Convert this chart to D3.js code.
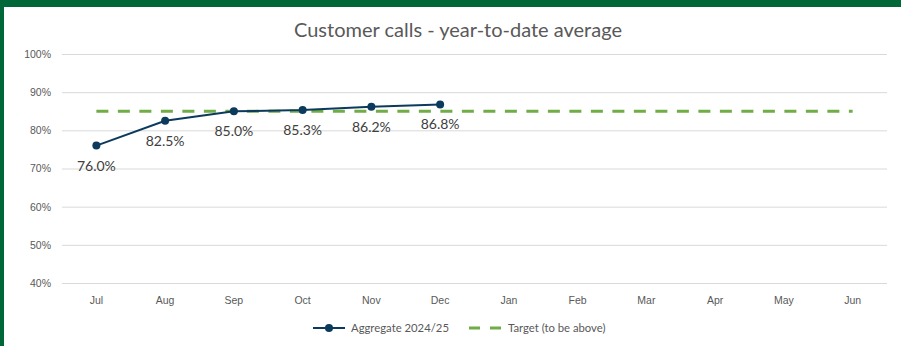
<!DOCTYPE html>
<html>
<head>
<meta charset="utf-8">
<script src="https://cdn.jsdelivr.net/npm/d3@7"></script>
<style>
  html, body { margin: 0; padding: 0; background: #fff; }
  svg { display: block; font-family: Lato, "Open Sans", sans-serif; }
</style>
</head>
<body>
<svg id="chart" width="901" height="346"></svg>
<script>
// Months of the financial year
const months = ["Jul", "Aug", "Sep", "Oct", "Nov", "Dec", "Jan", "Feb", "Mar", "Apr", "May", "Jun"];
// Year-to-date average (%) for Aggregate 2024/25
const aggregate = [76.0, 82.5, 85.0, 85.3, 86.2, 86.8];
// Target (to be above), %
const target = [85, 85, 85, 85, 85, 85, 85, 85, 85, 85, 85, 85];
// Y axis ticks, %
const yTicks = [40, 50, 60, 70, 80, 90, 100];

const svg = d3.select("#chart");
const W = 901, H = 346;

// frame: white panel on dark green border (top and left)
svg.append("rect").attr("x", 0).attr("y", 0).attr("width", W).attr("height", H).attr("fill", "#006838");
svg.append("rect").attr("x", 4).attr("y", 7).attr("width", W - 4).attr("height", H - 7).attr("fill", "#ffffff");

const plot = { left: 62, right: 887, top: 54, bottom: 283 };

const x = d3.scaleBand().domain(months).range([plot.left, plot.right]);
const y = d3.scaleLinear().domain([40, 100]).range([plot.bottom, plot.top]);
const cx = m => x(m) + x.bandwidth() / 2;

// title
svg.append("text")
  .attr("x", 458).attr("y", 37)
  .attr("text-anchor", "middle")
  .attr("font-size", 20)
  .attr("fill", "#595959")
  .text("Customer calls - year-to-date average");

// gridlines
const yAxis = d3.axisLeft(y).tickValues(yTicks).tickFormat(d => d + "%").tickSize(-(plot.right - plot.left)).tickPadding(11);
const gy = svg.append("g").attr("transform", `translate(${plot.left},0)`).call(yAxis);
gy.select(".domain").remove();
gy.selectAll(".tick line").attr("stroke", "#d9d9d9").attr("stroke-width", 1);
gy.selectAll(".tick text").attr("fill", "#595959").attr("font-size", 10.5);

// x axis labels
const xAxis = d3.axisBottom(x).tickSize(0).tickPadding(14);
const gx = svg.append("g").attr("transform", `translate(0,${plot.bottom})`).call(xAxis);
gx.select(".domain").remove();
gx.selectAll(".tick text").attr("fill", "#595959").attr("font-size", 10.5);

// target line
const line = d3.line().x((d, i) => cx(months[i])).y(d => y(d));
svg.append("path")
  .datum(target)
  .attr("d", line)
  .attr("fill", "none")
  .attr("stroke", "#70ad47")
  .attr("stroke-width", 3)
  .attr("stroke-dasharray", "12,9.5");

// aggregate line
const navy = "#0b3a5c";
svg.append("path")
  .datum(aggregate)
  .attr("d", line)
  .attr("fill", "none")
  .attr("stroke", navy)
  .attr("stroke-width", 2);

svg.selectAll("circle.pt")
  .data(aggregate)
  .join("circle")
  .attr("class", "pt")
  .attr("cx", (d, i) => cx(months[i]))
  .attr("cy", d => y(d))
  .attr("r", 4)
  .attr("fill", navy);

// data labels below points
svg.selectAll("text.lbl")
  .data(aggregate)
  .join("text")
  .attr("class", "lbl")
  .attr("x", (d, i) => cx(months[i]))
  .attr("y", d => y(d) + 25)
  .attr("text-anchor", "middle")
  .attr("font-size", 14)
  .attr("fill", "#404040")
  .text(d => d.toFixed(1) + "%");

// legend
const ly = 328;
const lg = svg.append("g");
lg.append("line").attr("x1", 313).attr("x2", 345).attr("y1", ly).attr("y2", ly).attr("stroke", navy).attr("stroke-width", 2);
lg.append("circle").attr("cx", 329).attr("cy", ly).attr("r", 4).attr("fill", navy);
lg.append("text").attr("x", 351).attr("y", ly + 4).attr("font-size", 11.3).attr("fill", "#595959").text("Aggregate 2024/25");
lg.append("line").attr("x1", 469).attr("x2", 505).attr("y1", ly).attr("y2", ly)
  .attr("stroke", "#70ad47").attr("stroke-width", 3).attr("stroke-dasharray", "11,10");
lg.append("text").attr("x", 508).attr("y", ly + 4).attr("font-size", 11.3).attr("fill", "#595959").text("Target (to be above)");
</script>
</body>
</html>
